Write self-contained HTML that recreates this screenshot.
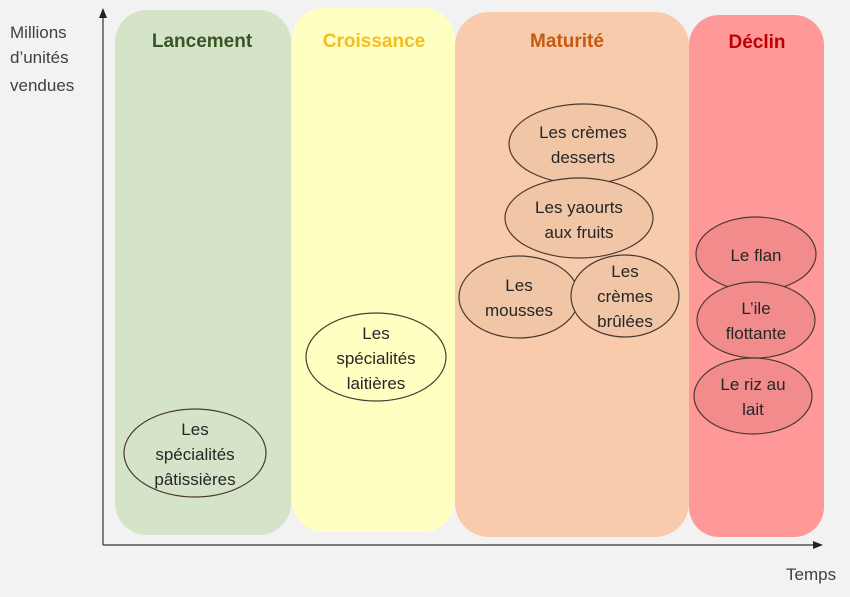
<!DOCTYPE html>
<html><head><meta charset="utf-8"><style>
html,body{margin:0;padding:0;background:#f2f2f2;}
svg{display:block;}
text{font-family:"Liberation Sans",sans-serif;}
</style></head><body>
<svg width="850" height="597" viewBox="0 0 850 597" xmlns="http://www.w3.org/2000/svg">
<rect x="0" y="0" width="850" height="597" fill="#f2f2f2"/>
<rect x="115" y="10" width="176" height="525" rx="32" fill="#d5e3c9"/>
<rect x="292" y="8" width="163" height="524" rx="32" fill="#ffffc2"/>
<rect x="455" y="12" width="234" height="525" rx="34" fill="#f8cbad"/>
<rect x="689" y="15" width="135" height="522" rx="30" fill="#ff9999"/>
<g font-weight="bold" font-size="19" text-anchor="middle">
<text x="202" y="47" fill="#375623">Lancement</text>
<text x="374" y="47" fill="#f2bf1f">Croissance</text>
<text x="567" y="47" fill="#c55a11">Maturité</text>
<text x="757" y="48" fill="#c00000">Déclin</text>
</g>
<g stroke="#333" stroke-width="1.2">
<line x1="103" y1="545" x2="103" y2="16"/>
<line x1="103" y1="545" x2="815" y2="545"/>
</g>
<polygon points="103,8 99,18 107,18" fill="#222"/>
<polygon points="823,545 813,541 813,549" fill="#222"/>
<g font-size="17" fill="#404040">
<text x="10" y="38">Millions</text>
<text x="10" y="63">d’unités</text>
<text x="10" y="91">vendues</text>
<text x="786" y="580">Temps</text>
</g>
<g stroke="#4a3a30" stroke-width="1.2">
<ellipse cx="195" cy="453" rx="71" ry="44" fill="#d5e3c9"/>
<ellipse cx="376" cy="357" rx="70" ry="44" fill="#ffffc2"/>
<ellipse cx="583" cy="144" rx="74" ry="40" fill="#f0c6a6"/>
<ellipse cx="579" cy="218" rx="74" ry="40" fill="#f0c6a6"/>
<ellipse cx="519" cy="297" rx="60" ry="41" fill="#f0c6a6"/>
<ellipse cx="625" cy="296" rx="54" ry="41" fill="#f0c6a6"/>
<ellipse cx="756" cy="254" rx="60" ry="37" fill="#f28c8c"/>
<ellipse cx="756" cy="320" rx="59" ry="38" fill="#f28c8c"/>
<ellipse cx="753" cy="396" rx="59" ry="38" fill="#f28c8c"/>
</g>
<g font-size="17" fill="#262626" text-anchor="middle">
<text x="195" y="435">Les</text><text x="195" y="460">spécialités</text><text x="195" y="485">pâtissières</text>
<text x="376" y="339">Les</text><text x="376" y="364">spécialités</text><text x="376" y="389">laitières</text>
<text x="583" y="138">Les crèmes</text><text x="583" y="163">desserts</text>
<text x="579" y="213">Les yaourts</text><text x="579" y="238">aux fruits</text>
<text x="519" y="291">Les</text><text x="519" y="316">mousses</text>
<text x="625" y="277">Les</text><text x="625" y="302">crèmes</text><text x="625" y="327">brûlées</text>
<text x="756" y="261">Le flan</text>
<text x="756" y="314">L’ile</text><text x="756" y="339">flottante</text>
<text x="753" y="390">Le riz au</text><text x="753" y="415">lait</text>
</g>
</svg>
</body></html>
